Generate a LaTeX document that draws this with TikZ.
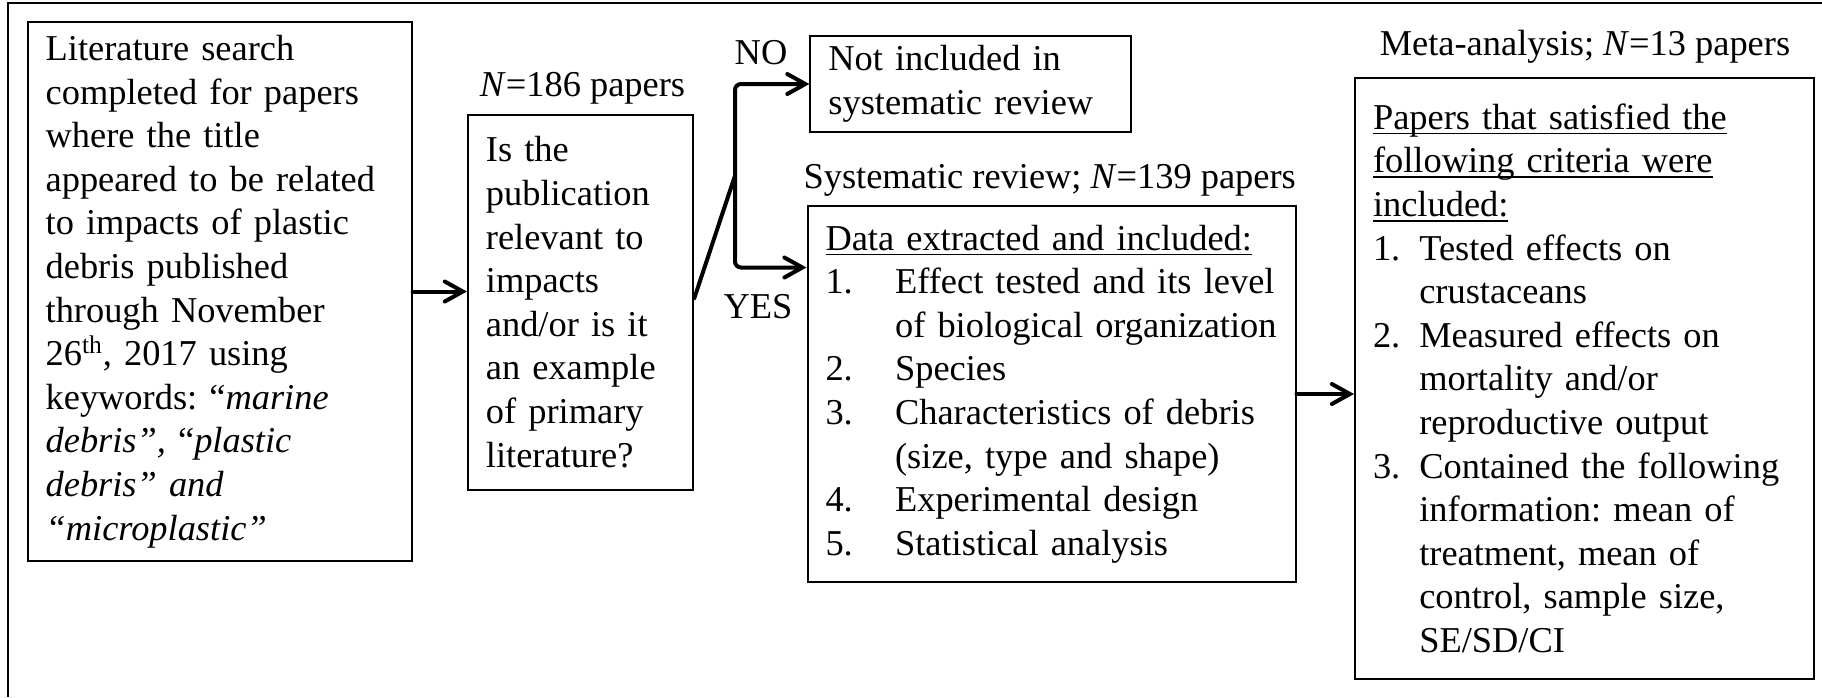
\documentclass[tikz,border=0pt]{standalone}
\usepackage{fontspec}
\setmainfont{Liberation Serif}
\usetikzlibrary{arrows.meta,calc}
\frenchspacing
\newcommand\myul[1]{\leavevmode\setbox0\hbox{#1}\rlap{\rule[-2.6pt]{\wd0}{0.8pt}}\box0}
\begin{document}
\begin{tikzpicture}[x=0.5pt,y=-0.5pt,
  every node/.style={font=\fontsize{18.2pt}{21.8pt}\selectfont},
  box/.style={draw,line width=1pt,inner xsep=9pt,inner ysep=0pt,align=left,anchor=center},
  lbl/.style={inner sep=0pt,anchor=center},
  conn/.style={line width=2pt,line cap=round,rounded corners=3pt},
  arr/.style={conn,-{Straight Barb[length=9pt,width=10pt,line cap=round]}}]
\useasboundingbox (0,0) rectangle (1822,697);
% outer frame (only left and top edges visible)
\draw[line width=1pt] (7.5,697) -- (7.5,2.5) -- (1822,2.5);

\node[box,text width=174pt,minimum height=269.2pt] (search) at (219.65,291.5)
 {Literature search\\completed for papers\\where the title\\appeared to be related\\to impacts of plastic\\debris published\\through November\\26\textsuperscript{th}, 2017 using\\keywords: “\textit{marine}\\\textit{debris”,} “\textit{plastic}\\\textit{debris” and}\\\textit{“microplastic”}};

\node[box,text width=94.7pt,minimum height=187.5pt] (q) at (580.6,302.2)
 {Is the\\publication\\relevant to\\impacts\\and/or is it\\an example\\of primary\\literature?};

\node[box,text width=142.45pt,minimum height=48.4pt] (ni) at (970.85,84)
 {Not included in\\systematic review};

\node[box,text width=226pt,minimum height=188.2pt] (data) at (1051.5,394)
 {\myul{Data extracted and included:}\\
  \makebox[34.8pt][l]{1.}Effect tested and its level\\
  \hspace*{34.8pt}of biological organization\\
  \makebox[34.8pt][l]{2.}Species\\
  \makebox[34.8pt][l]{3.}Characteristics of debris\\
  \hspace*{34.8pt}(size, type and shape)\\
  \makebox[34.8pt][l]{4.}Experimental design\\
  \makebox[34.8pt][l]{5.}Statistical analysis};

\node[box,text width=211.7pt,minimum height=300.45pt] (meta) at (1584.7,378.25)
 {\myul{Papers that satisfied the}\\\myul{following criteria were}\\\myul{included:}\\
  \makebox[23.15pt][l]{1.}Tested effects on\\\hspace*{23.15pt}crustaceans\\
  \makebox[23.15pt][l]{2.}Measured effects on\\\hspace*{23.15pt}mortality and/or\\\hspace*{23.15pt}reproductive output\\
  \makebox[23.15pt][l]{3.}Contained the following\\\hspace*{23.15pt}information: mean of\\\hspace*{23.15pt}treatment, mean of\\\hspace*{23.15pt}control, sample size,\\\hspace*{23.15pt}SE/SD/CI};

\node[lbl] (n186) at (582.5,88) {\textit{N}=186 papers};
\node[lbl] (no) at (761,52.4) {NO};
\node[lbl] (yes) at (758,306.7) {YES};
\node[lbl] (sysl) at (1049.7,180) {Systematic review; \textit{N}=139 papers};
\node[lbl] (metal) at (1585,46.7) {Meta-analysis; \textit{N}=13 papers};

\draw[arr] (search.east) -- (search.east -| q.west);
\coordinate (split) at (735,175.6);
\coordinate (yb) at (735,267.5);
\draw[conn] ([yshift=2pt]q.east) -- (split);
\draw[arr] (split) |- (ni.west);
\draw[arr] (split) -- (yb) -- (yb -| data.west);
\draw[arr] (data.east) -- (data.east -| meta.west);
\end{tikzpicture}
\end{document}
